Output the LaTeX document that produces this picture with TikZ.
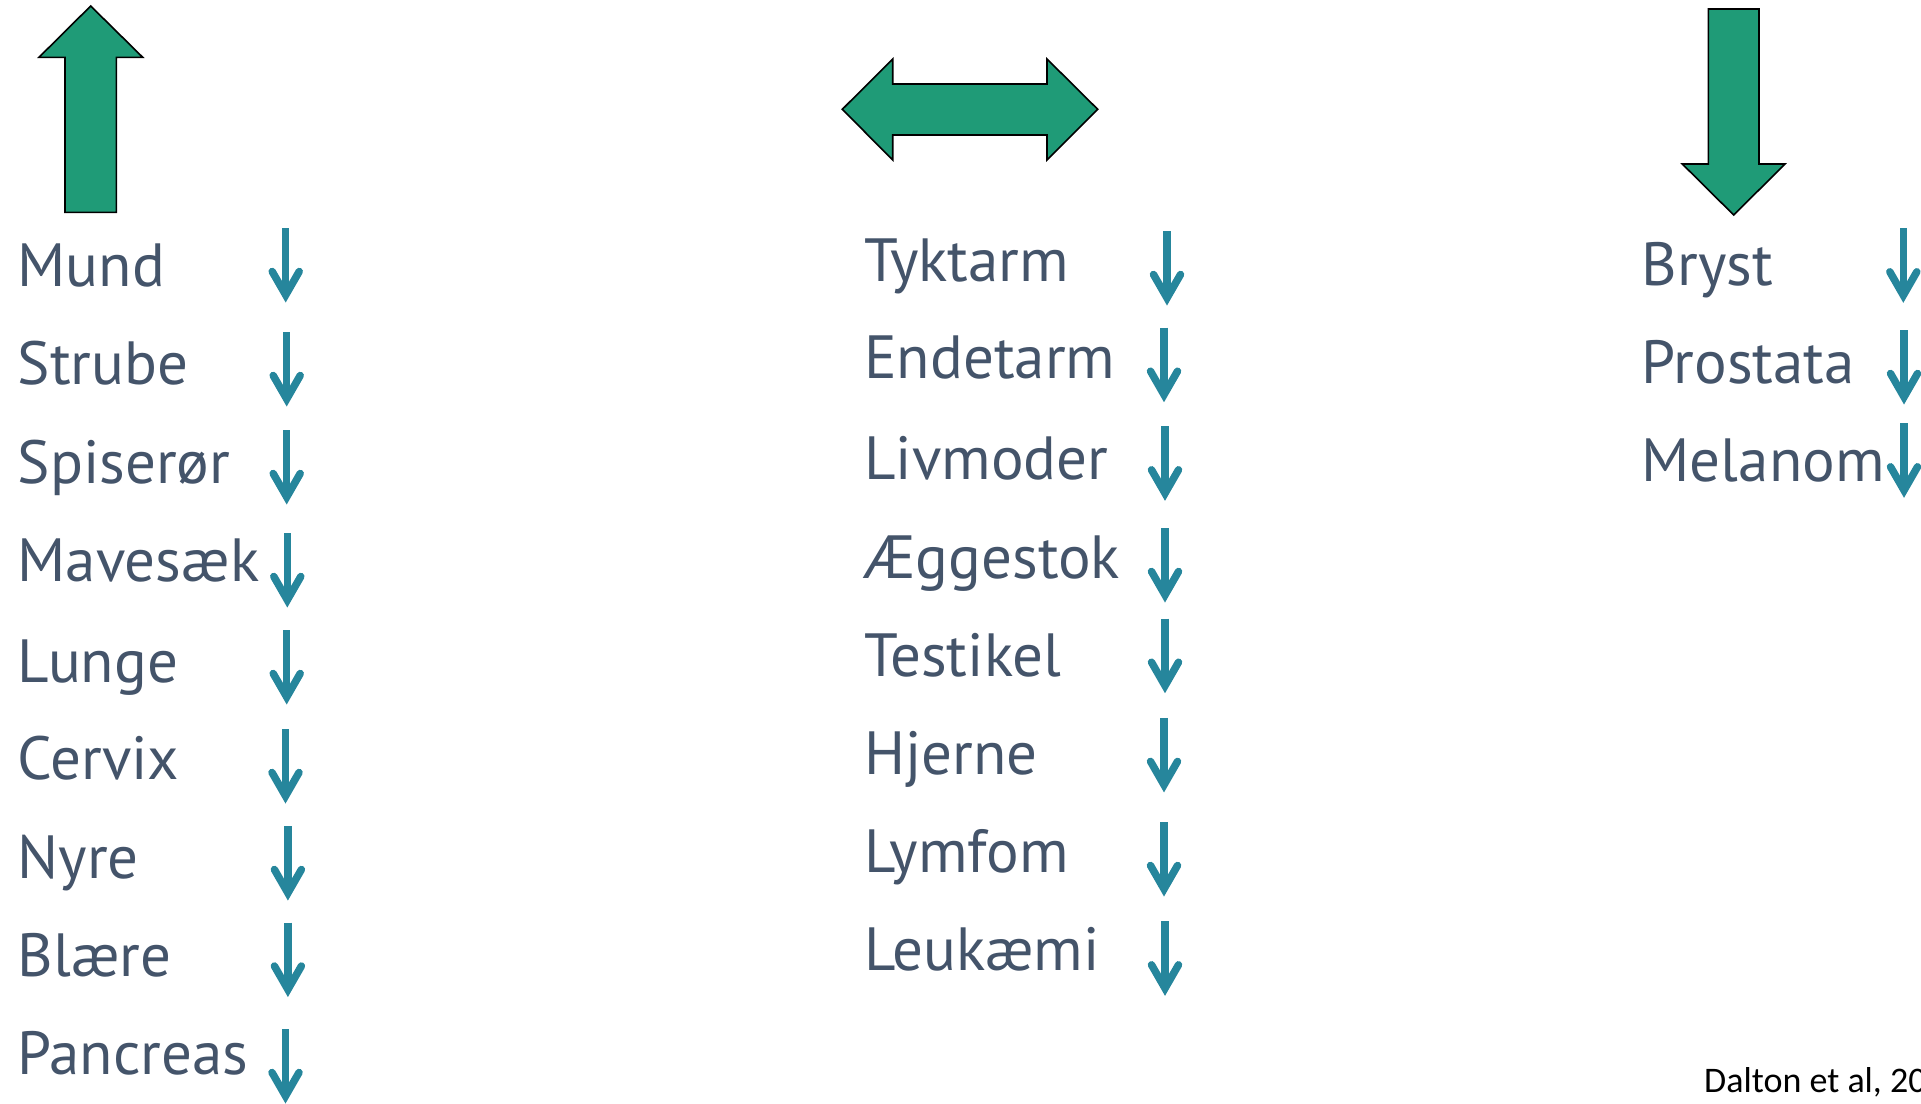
\documentclass[tikz,border=0pt]{standalone}
\usepackage{fontspec}
\setmainfont{PT Sans}
\newfontfamily\notefont{Carlito}
\definecolor{slate}{HTML}{44546A}
\definecolor{sea}{HTML}{1F9B77}
\definecolor{petrol}{HTML}{26869C}
\tikzset{
	organ/.style={font=\fontsize{61}{62}\selectfont, text=slate, inner sep=0pt, anchor=base west},
	bigarrow/.style={fill=sea, draw=black, line width=1.6pt, line join=miter},
	fall/.pic={
		\draw[petrol, line width=7.5pt] (0,0) -- (0,66);
		\draw[petrol, line width=7.5pt, line cap=round, line join=miter] (-13.5,43.5) -- (0,67) -- (13.5,43.5);
	}
}
\begin{document}
\begin{tikzpicture}[x=1pt, y=-1pt]
	\useasboundingbox (0,0) rectangle (1921,1103);
	% trend arrows
	\draw[bigarrow] (90.7,6) -- (142.7,57.3) -- (116.3,57.3) -- (116.3,212.3) -- (65,212.3) -- (65,57.3) -- (39,57.3) -- cycle;
	\draw[bigarrow] (842.3,109.3) -- (892.7,59) -- (892.7,84) -- (1047,84) -- (1047,59) -- (1097.7,109.3) -- (1047,160) -- (1047,135) -- (892.7,135) -- (892.7,160) -- cycle;
	\draw[bigarrow] (1708.3,9) -- (1759,9) -- (1759,164) -- (1785,164) -- (1733.7,215) -- (1682.3,164) -- (1708.3,164) -- cycle;
	% left column
	\node[organ] (mund) at (17.5,286) {Mund};
	\node[organ] (strube) at (17.5,384.5) {Strube};
	\node[organ] (spiseroer) at (17.5,483.5) {Spiserør};
	\node[organ] (mavesaek) at (17.5,581) {Mavesæk};
	\node[organ] (lunge) at (17.5,682) {Lunge};
	\node[organ] (cervix) at (17.5,779.5) {Cervix};
	\node[organ] (nyre) at (17.5,878.5) {Nyre};
	\node[organ] (blaere) at (17.5,976.5) {Blære};
	\node[organ] (pancreas) at (17.5,1074.5) {Pancreas};
	\pic at (285.7,228) {fall};
	\pic at (286.7,332) {fall};
	\pic at (286.7,430) {fall};
	\pic at (287.3,533) {fall};
	\pic at (286.7,630) {fall};
	\pic at (285.5,729) {fall};
	\pic at (287.9,826) {fall};
	\pic at (287.9,922.5) {fall};
	\pic at (285.5,1029) {fall};
	% middle column
	\node[organ] (tyktarm) at (864,281.7) {Tyktarm};
	\node[organ] (endetarm) at (864,378.3) {Endetarm};
	\node[organ] (livmoder) at (864,479.2) {Livmoder};
	\node[organ] (aeggestok) at (864,578.4) {Æggestok};
	\node[organ] (testikel) at (864,676.4) {Testikel};
	\node[organ] (hjerne) at (864,774.4) {Hjerne};
	\node[organ] (lymfom) at (864,872.4) {Lymfom};
	\node[organ] (leukaemi) at (864,970.5) {Leukæmi};
	\pic at (1167,231) {fall};
	\pic at (1164,327.7) {fall};
	\pic at (1165,426.3) {fall};
	\pic at (1165,528) {fall};
	\pic at (1165,618.7) {fall};
	\pic at (1164,717.9) {fall};
	\pic at (1164,822) {fall};
	\pic at (1165,921.3) {fall};
	% right column
	\node[organ] (bryst) at (1641.5,285) {Bryst};
	\node[organ] (prostata) at (1641.5,383.3) {Prostata};
	\node[organ] (melanom) at (1641.5,481.7) {Melanom};
	\pic at (1903.3,228.3) {fall};
	\pic at (1904,330) {fall};
	\pic at (1904,423.3) {fall};
	% source
	\node[font=\notefont\fontsize{36}{36}\selectfont, inner sep=0pt, anchor=base west] (source) at (1704,1092.7) {Dalton et al, 20};
\end{tikzpicture}
\end{document}
